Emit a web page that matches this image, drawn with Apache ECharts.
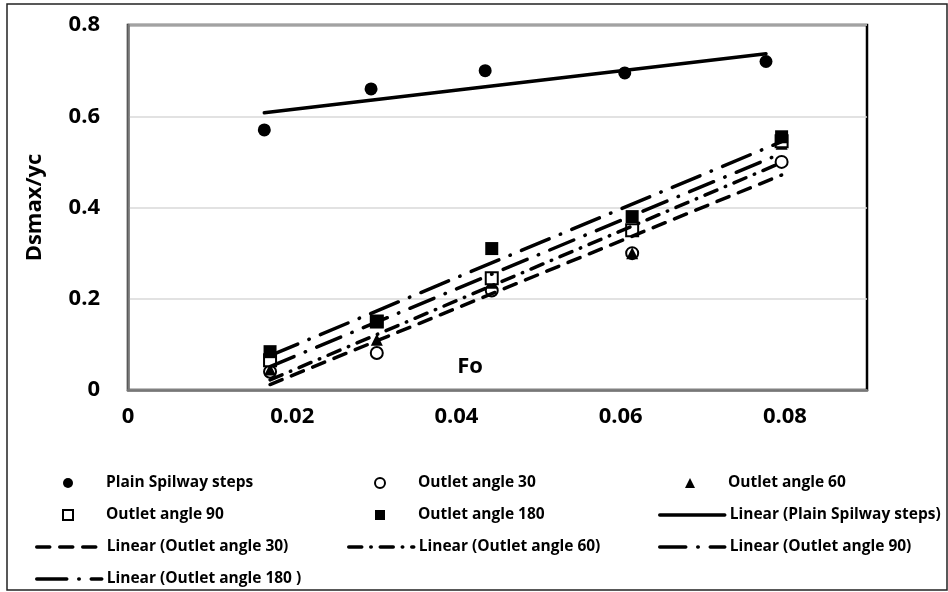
<!DOCTYPE html>
<html>
<head>
<meta charset="utf-8">
<script src="https://cdn.jsdelivr.net/npm/echarts@6/dist/echarts.min.js"></script>
<style>
html,body{margin:0;padding:0;background:#fff;}
#chart{width:948px;height:592px;}
</style>
</head>
<body>
<div id="chart"></div>
<script>
// ---- data ----
const xPlain   = [0.0166, 0.0296, 0.0435, 0.0605, 0.0777];
const yPlain   = [0.57, 0.66, 0.70, 0.695, 0.72];
const xOutlet  = [0.0173, 0.0303, 0.0443, 0.0614, 0.0796];
const yAngle30  = [0.040, 0.081, 0.218, 0.300, 0.500];
const yAngle60  = [0.045, 0.110, 0.235, 0.300, 0.540];
const yAngle90  = [0.065, 0.150, 0.245, 0.350, 0.545];
const yAngle180 = [0.084, 0.150, 0.310, 0.380, 0.555];
const xAxisTicks = [0, 0.02, 0.04, 0.06, 0.08];
const yAxisTicks = [0, 0.2, 0.4, 0.6, 0.8];
const names = {
  plain: 'Plain Spilway steps', a30: 'Outlet angle 30', a60: 'Outlet angle 60',
  a90: 'Outlet angle 90', a180: 'Outlet angle 180',
  lPlain: 'Linear (Plain Spilway steps)', l30: 'Linear (Outlet angle 30)',
  l60: 'Linear (Outlet angle 60)', l90: 'Linear (Outlet angle 90)', l180: 'Linear (Outlet angle 180 )'
};

function pairs(xs, ys){ return xs.map((x,i)=>[x, ys[i]]); }
// least-squares linear trendline (as the spreadsheet "Linear" trendline)
function trend(xs, ys){
  const n = xs.length;
  const mx = xs.reduce((a,b)=>a+b,0)/n, my = ys.reduce((a,b)=>a+b,0)/n;
  let sxy=0, sxx=0;
  for(let i=0;i<n;i++){ sxy += (xs[i]-mx)*(ys[i]-my); sxx += (xs[i]-mx)*(xs[i]-mx); }
  const b = sxy/sxx, a = my - b*mx;
  const x0 = Math.min(...xs), x1 = Math.max(...xs);
  return [[x0, a+b*x0],[x1, a+b*x1]];
}

const FONT = '"Open Sans", sans-serif';
const chart = echarts.init(document.getElementById('chart'), null, {renderer:'canvas'});

function scatter(name, xs, ys, symbol, size, filled){
  return {
    name, type:'scatter', data: pairs(xs, ys), symbol, symbolSize: size, z: 3,
    itemStyle: filled ? {color:'#000', opacity:1} : {color:'#fff', borderColor:'#000', borderWidth:2, opacity:1},
    emphasis:{disabled:true}
  };
}
function tline(name, xs, ys, type){
  return {
    name, type:'line', data: trend(xs, ys), symbol:'none', z: 4,
    lineStyle:{color:'#000', width:3.5, type, cap:'round'},
    itemStyle:{color:'#000'},
    emphasis:{disabled:true}
  };
}

const ROW0 = 470, PITCH = 32;
const txt = {fontFamily:FONT, fontWeight:'bold', fontSize:15.5, color:'#000', lineHeight:16};
function markerLegend(left, row, items, textStart){
  return {
    orient:'vertical', left, top: ROW0 + row*PITCH, height: 200,
    itemWidth:10, itemHeight:10, itemGap:16, selectedMode:false,
    textStyle: Object.assign({padding:[0,0,0,textStart-(left+15)]}, txt),
    data: items
  };
}
function lineLegend(left, row, items){
  return {
    orient:'vertical', left, top: ROW0 + row*PITCH, height: 200,
    itemWidth:65, itemHeight:10, itemGap:16, selectedMode:false,
    textStyle: txt,
    data: items.map(n=>({name:n, itemStyle:{opacity:0}, lineStyle:{width:3.5}}))
  };
}

const option = {
  backgroundColor:'#fff',
  animation:false,
  graphic:[{type:'rect', shape:{x:7, y:4, width:940, height:586}, style:{fill:'none', stroke:'#222', lineWidth:1.5}, silent:true}],
  grid:{left:128, top:25, right:81, bottom:202, show:true, borderColor:'#000', borderWidth:2.5, backgroundColor:'#fff'},
  xAxis:{
    type:'value', min:0, max:0.09, interval:0.02,
    name:'Fo', nameLocation:'middle', nameGap:-23, nameMoveOverlap:false,
    nameTextStyle:{fontFamily:FONT, fontWeight:'bold', fontSize:22, color:'#000', padding:[0,55,0,0], verticalAlign:'middle'},
    axisLine:{show:true, lineStyle:{color:'#777', width:2.5}},
    axisTick:{show:false}, splitLine:{show:false},
    axisLabel:{fontFamily:FONT, fontWeight:'bold', fontSize:22, color:'#000', margin:16,
      formatter:v=>{ const t = xAxisTicks.find(k=>Math.abs(k-v)<1e-9); return t===undefined ? '' : String(t); }}
  },
  yAxis:{
    type:'value', min:0, max:0.8, interval:0.2,
    name:'Dsmax/yc', nameLocation:'middle', nameGap:82, nameRotate:90, nameMoveOverlap:false,
    nameTextStyle:{fontFamily:FONT, fontWeight:'bold', fontSize:22, color:'#000'},
    axisLine:{show:true, lineStyle:{color:'#777', width:2.5}},
    axisTick:{show:false},
    splitLine:{show:true, lineStyle:{color:'#d9d9d9', width:1.5}},
    axisLabel:{fontFamily:FONT, fontWeight:'bold', fontSize:22, color:'#000', margin:28,
      formatter:v=>{ const t = yAxisTicks.find(k=>Math.abs(k-v)<1e-9); return t===undefined ? '' : String(t); }}
  },
  legend:[
    markerLegend(57, 0, [names.plain, names.a90], 100),
    lineLegend(30, 2, [names.l30, names.l180]),
    markerLegend(369, 0, [names.a30, names.a180], 412),
    lineLegend(342, 2, [names.l60]),
    markerLegend(680, 0, [names.a60], 723),
    lineLegend(653, 1, [names.lPlain, names.l90])
  ],
  series:[
    scatter(names.plain, xPlain, yPlain, 'circle', 13, true),
    scatter(names.a30, xOutlet, yAngle30, 'circle', 12, false),
    scatter(names.a60, xOutlet, yAngle60, 'triangle', 12, true),
    scatter(names.a90, xOutlet, yAngle90, 'rect', 12, false),
    scatter(names.a180, xOutlet, yAngle180, 'rect', 13, true),
    tline(names.lPlain, xPlain, yPlain, 'solid'),
    tline(names.l30, xOutlet, yAngle30, [13, 10]),
    tline(names.l60, xOutlet, yAngle60, [13, 9, 0.5, 9]),
    tline(names.l90, xOutlet, yAngle90, [26, 12, 0.5, 12]),
    tline(names.l180, xOutlet, yAngle180, [30, 12, 0.5, 12])
  ]
};
chart.setOption(option);
</script>
</body>
</html>
